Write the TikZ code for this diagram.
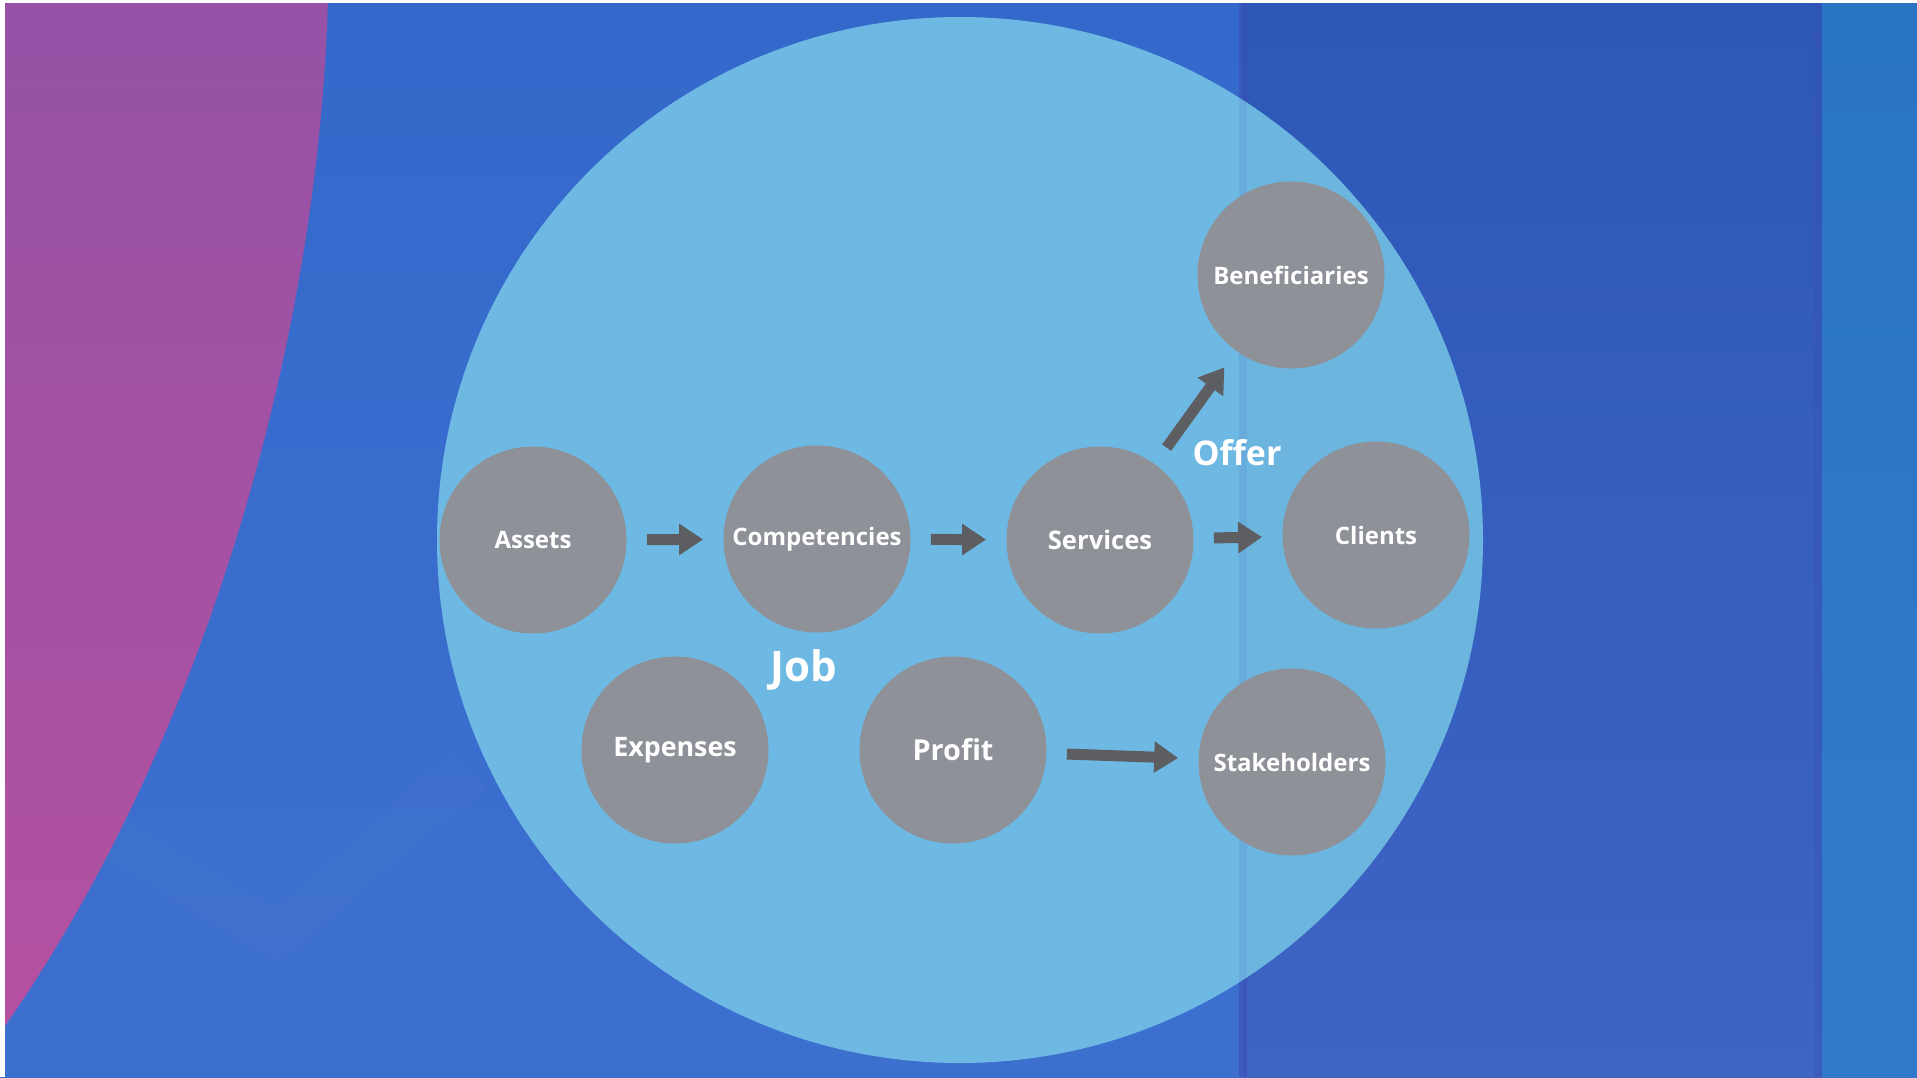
\documentclass[tikz,border=0pt]{standalone}
\usepackage{fontspec}
\setmainfont{Open Sans}
\usetikzlibrary{arrows.meta}
\definecolor{bgtop}{HTML}{3469CB}
\definecolor{bgbot}{HTML}{3D6FCF}
\definecolor{bandtop}{HTML}{2D58B8}
\definecolor{bandbot}{HTML}{3E64C4}
\definecolor{rtop}{HTML}{2A74C4}
\definecolor{rbot}{HTML}{3279C9}
\definecolor{purtop}{HTML}{9552A6}
\definecolor{purbot}{HTML}{B451A0}
\definecolor{seam}{HTML}{3A4DB0}
\definecolor{circblue}{HTML}{6EB9E4}
\definecolor{bubblegray}{HTML}{8E9198}
\definecolor{arrowgray}{HTML}{5D5E61}
\begin{document}
\begin{tikzpicture}[x=0.5pt,y=-0.5pt,
  bubble/.style={circle, fill=bubblegray, minimum size=93.5pt, inner sep=0pt,
    text=white, font=\bfseries\fontsize{12}{14}\selectfont},
  flow/.style={-{Triangle[length=12pt,width=15pt]}, line width=5.5pt, draw=arrowgray,
    shorten >=10pt, shorten <=10pt},
  tag/.style={text=white, font=\bfseries\fontsize{17}{20}\selectfont, inner sep=0pt}]
\useasboundingbox (0,0) rectangle (1917,1077);
% background
\shade[top color=bgtop, bottom color=bgbot] (0,0) rectangle (1243,1077);
\shade[top color=bandtop, bottom color=bandbot] (1243,0) rectangle (1822,1077);
\shade[top color=rtop, bottom color=rbot] (1822,0) rectangle (1917,1077);
\fill[seam, opacity=0.6] (1239,0) rectangle (1247,1077);
\fill[seam, opacity=0.3] (1814,0) rectangle (1822,1077);
% faint chevron
\draw[white, opacity=0.015, line width=25pt, line join=round] (100,830) -- (277,935) -- (470,770);
% purple region
\shade[top color=purtop, bottom color=purbot]
  (328,0) .. controls (318,350) and (200,750) .. (0,1033) -- (0,0) -- cycle;
% white edges
\fill[white] (0,0) rectangle (1917,3);
\fill[white] (0,0) rectangle (5,1077);
% big circle
\node (area) [circle, fill=circblue, minimum size=523pt, inner sep=0pt] at (960,540) {};
\begin{scope}
  \clip (960,540) circle (523);
  \fill[seam, opacity=0.12] (1239,0) rectangle (1247,1077);
  \fill[black, opacity=0.02] (1247,0) rectangle (1917,1077);
\end{scope}
% bubbles
\node[bubble] (assets) at (533,540) {Assets};
\node[bubble] (comp)   at (817,539) {Competencies};
\node[bubble, font=\bfseries\fontsize{12.8}{14}\selectfont] (serv) at (1100,540) {Services};
\node[bubble] (clients) at (1376,535) {Clients};
\node[bubble] (benef)  at (1291,275) {Beneficiaries};
\node[bubble, font=\bfseries\fontsize{13.4}{15}\selectfont] (exp) at (675,750) {Expenses};
\node[bubble, font=\bfseries\fontsize{14.4}{16}\selectfont] (profit) at (953,750) {Profit};
\node[bubble] (stake)  at (1292,762) {Stakeholders};
% labels
\node[tag, anchor=base] (offer) at (1237,465) {Offer};
\node[tag, font=\bfseries\fontsize{21}{24}\selectfont, anchor=base] (job) at (804,681) {Job};
% arrows
\draw[flow] (assets) -- (comp);
\draw[flow] (comp) -- (serv);
\draw[flow] (serv) -- (clients);
\draw[flow] (serv) -- (benef);
\draw[flow] (profit) -- (stake);
\end{tikzpicture}
\end{document}
